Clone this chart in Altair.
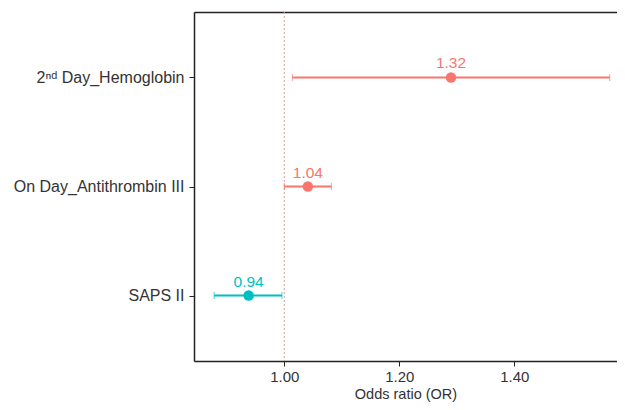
import altair as alt
import pandas as pd

variables = ["2ⁿᵈ Day_Hemoglobin", "On Day_Antithrombin III", "SAPS II"]
or_point = [1.290, 1.041, 0.938]
ci_low = [1.014, 1.000, 0.878]
ci_high = [1.566, 1.082, 0.996]
or_labels = ["1.32", "1.04", "0.94"]
direction = ["up", "up", "down"]
x_ticks = [1.0, 1.2, 1.4]
ref_value = [1.0]

df = pd.DataFrame({
    "variable": variables,
    "OR": or_point,
    "low": ci_low,
    "high": ci_high,
    "label": or_labels,
    "dir": direction,
})
ref_df = pd.DataFrame({"ref": ref_value})

FONT = "Liberation Sans"
xscale = alt.Scale(domain=[0.843, 1.5787], nice=False, zero=False)
yscale = alt.Scale(type="point", domain=variables, padding=0.6)
color = alt.Color("dir:N", scale=alt.Scale(domain=["up", "down"], range=["#F8766D", "#00BFC4"]), legend=None)

xaxis = alt.Axis(values=x_ticks, format=".2f", title="Odds ratio (OR)", grid=False,
                 domainColor="#222222", domainWidth=1.5, tickColor="#222222", tickSize=5,
                 labelFontSize=15, labelColor="#333333", labelFont=FONT, labelPadding=3,
                 titleFontSize=14.5, titleFont=FONT, titleColor="#333333", titleFontWeight="normal",
                 titleY=37, titleBaseline="alphabetic")
yaxis = alt.Axis(title=None, grid=False, domainColor="#222222", domainWidth=1.5,
                 tickColor="#222222", tickSize=5, labelFontSize=16, labelColor="#333333",
                 labelFont=FONT, labelPadding=5)

base = alt.Chart(df)

ref = alt.Chart(ref_df).mark_rule(color="#D4A29C", strokeDash=[2, 2], strokeWidth=1).encode(
    x=alt.X("ref:Q", scale=xscale,
            axis=alt.Axis(orient="top", labels=False, ticks=False, title=None, grid=False,
                          domainColor="#222222", domainWidth=1.5))
)

bars = base.mark_rule(strokeWidth=2).encode(
    x=alt.X("low:Q", scale=xscale, axis=xaxis),
    x2="high:Q",
    y=alt.Y("variable:N", scale=yscale, axis=yaxis),
    color=color,
)
caps_lo = base.mark_tick(orient="vertical", size=7, thickness=1).encode(
    x=alt.X("low:Q", scale=xscale), y=alt.Y("variable:N", scale=yscale), color=color)
caps_hi = base.mark_tick(orient="vertical", size=7, thickness=1).encode(
    x=alt.X("high:Q", scale=xscale), y=alt.Y("variable:N", scale=yscale), color=color)
points = base.mark_circle(size=110, opacity=1).encode(
    x=alt.X("OR:Q", scale=xscale), y=alt.Y("variable:N", scale=yscale), color=color)
texts = base.mark_text(dy=-14, fontSize=15.5, font=FONT).encode(
    x=alt.X("OR:Q", scale=xscale), y=alt.Y("variable:N", scale=yscale), text="label:N", color=color)

main = alt.layer(bars, caps_lo, caps_hi, points, texts)

chart = alt.layer(ref, main).resolve_axis(x="independent").properties(
    width=423, height=349,
    autosize=alt.AutoSizeParams(type="none"),
    padding={"left": 186, "top": 4, "right": 0, "bottom": 41},
).configure_view(stroke=None).configure(background="white")

chart.save("out.html", embed_options={"renderer": "svg", "actions": False})
